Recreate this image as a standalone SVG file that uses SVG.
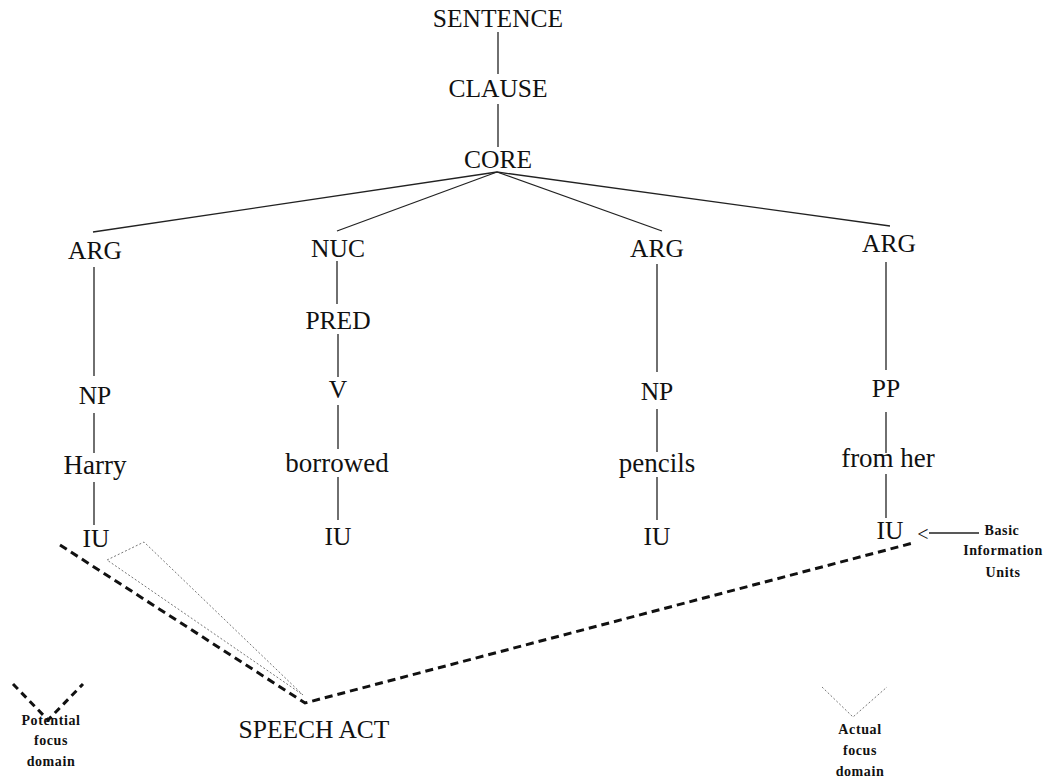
<svg xmlns="http://www.w3.org/2000/svg" width="1051" height="780" viewBox="0 0 1051 780">
  <style>
    text { font-family: 'Liberation Serif', 'DejaVu Serif', serif; fill: #111; text-anchor: middle; }
    .lbl { font-size: 25.5px; }
    .word { font-size: 27px; }
    .note { font-size: 14px; font-weight: bold; letter-spacing: 0.6px; }
    .edge { stroke: #222; stroke-width: 1.3; fill: none; }
    .thick { stroke: #111; stroke-width: 3; stroke-dasharray: 8 5; fill: none; }
    .dots { stroke: #777; stroke-width: 1; stroke-dasharray: 2 2; fill: none; }
  </style>
  <rect width="1051" height="780" fill="#fff"/>

  <!-- tree connectors -->
  <g id="connectors">
    <line class="edge" x1="498" y1="32" x2="498" y2="74"/>
    <line class="edge" x1="498" y1="104" x2="498" y2="147"/>
    <line class="edge" x1="497" y1="172" x2="93" y2="232"/>
    <line class="edge" x1="497" y1="172" x2="337" y2="231"/>
    <line class="edge" x1="497" y1="172" x2="662" y2="231"/>
    <line class="edge" x1="497" y1="172" x2="890" y2="226"/>
    <!-- ARG / Harry column -->
    <line class="edge" x1="94" y1="267" x2="94" y2="376"/>
    <line class="edge" x1="94" y1="413" x2="94" y2="453"/>
    <line class="edge" x1="94" y1="482" x2="94" y2="525"/>
    <!-- NUC / borrowed column -->
    <line class="edge" x1="337" y1="261" x2="337" y2="304"/>
    <line class="edge" x1="338" y1="334" x2="338" y2="377"/>
    <line class="edge" x1="338" y1="405" x2="338" y2="449"/>
    <line class="edge" x1="338" y1="477" x2="338" y2="520"/>
    <!-- ARG / pencils column -->
    <line class="edge" x1="657" y1="264" x2="657" y2="372"/>
    <line class="edge" x1="657" y1="409" x2="657" y2="452"/>
    <line class="edge" x1="657" y1="477" x2="657" y2="520"/>
    <!-- ARG / from her column -->
    <line class="edge" x1="886" y1="262" x2="886" y2="370"/>
    <line class="edge" x1="886" y1="412" x2="886" y2="453"/>
    <line class="edge" x1="886" y1="474" x2="886" y2="518"/>
    <!-- focus domain lines -->
    <polyline class="thick" points="60,545 305,703 913,543"/>
    <polygon class="dots" points="107,560 144,542 303,695"/>
    <!-- pointer to the basic information units -->
    <line class="edge" x1="929" y1="533" x2="979" y2="533"/>
  </g>

  <g id="sentence"><text class="lbl" x="498" y="27">SENTENCE</text></g>
  <g id="clause"><text class="lbl" x="498" y="97">CLAUSE</text></g>
  <g id="core"><text class="lbl" x="498" y="168">CORE</text></g>

  <g id="arg1"><text class="lbl" x="95" y="259">ARG</text></g>
  <g id="np1"><text class="lbl" x="95" y="404">NP</text></g>
  <g id="harry"><text class="word" x="95" y="474">Harry</text></g>
  <g id="iu1"><text class="lbl" x="96" y="547">IU</text></g>

  <g id="nuc"><text class="lbl" x="338" y="257">NUC</text></g>
  <g id="pred"><text class="lbl" x="338" y="329">PRED</text></g>
  <g id="v"><text class="lbl" x="338" y="398">V</text></g>
  <g id="borrowed"><text class="word" x="337" y="472">borrowed</text></g>
  <g id="iu2"><text class="lbl" x="338" y="545">IU</text></g>

  <g id="arg2"><text class="lbl" x="657" y="257">ARG</text></g>
  <g id="np2"><text class="lbl" x="657" y="400">NP</text></g>
  <g id="pencils"><text class="word" x="657" y="472">pencils</text></g>
  <g id="iu3"><text class="lbl" x="657" y="545">IU</text></g>

  <g id="arg3"><text class="lbl" x="889" y="252">ARG</text></g>
  <g id="pp"><text class="lbl" x="886" y="397">PP</text></g>
  <g id="fromher"><text class="word" x="888" y="467">from her</text></g>
  <g id="iu4"><text class="lbl" x="890" y="539">IU</text></g>

  <g id="speechact"><text class="lbl" x="314" y="738">SPEECH ACT</text></g>

  <g id="basic-units">
    <text class="lbl" x="923" y="541" style="font-size:20px">&lt;</text>
    <text class="note" x="1002" y="535">Basic</text>
    <text class="note" x="1003" y="555">Information</text>
    <text class="note" x="1003" y="577">Units</text>
  </g>

  <g id="potential-focus">
    <polyline class="thick" points="13,684 48,720 83,684" style="stroke-dasharray:7 5"/>
    <text class="note" x="51" y="725">Potential</text>
    <text class="note" x="51" y="745">focus</text>
    <text class="note" x="51" y="766">domain</text>
  </g>

  <g id="actual-focus">
    <polyline class="dots" points="822,687 853,717 887,687"/>
    <text class="note" x="860" y="734">Actual</text>
    <text class="note" x="860" y="755">focus</text>
    <text class="note" x="860" y="776">domain</text>
  </g>
</svg>
